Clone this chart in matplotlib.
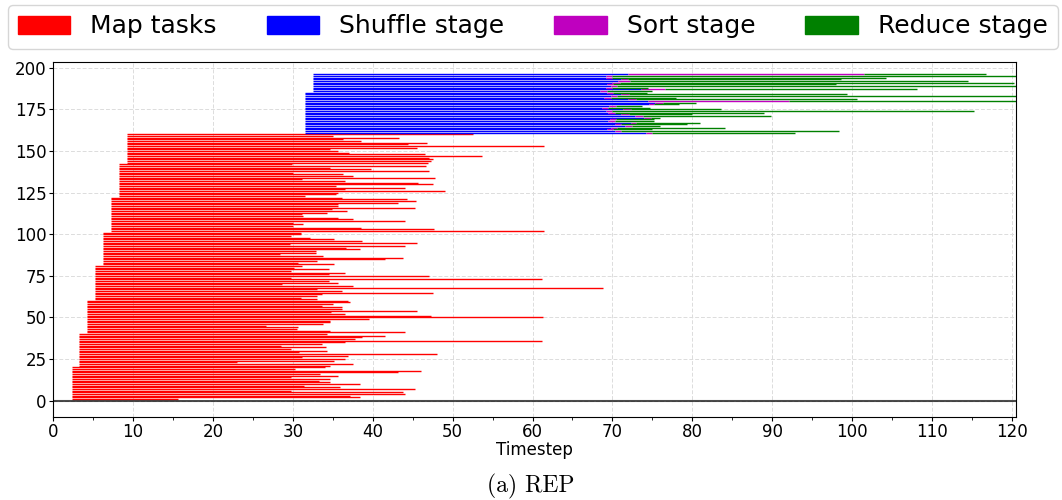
import numpy as np
import matplotlib
matplotlib.use("Agg")
import matplotlib.pyplot as plt
from matplotlib.patches import Patch
from matplotlib.ticker import MultipleLocator

# map tasks start in waves (start time, number of tasks in the wave)
map_wave_start = [2.4, 3.3, 4.2, 5.3, 6.3, 7.3, 8.3, 9.3]
map_wave_size = [20, 20, 20, 21, 20, 21, 20, 18]

# end time of each map task, bottom (task 1) to top (task 160)
map_end = [
    15.7, 38.4, 37.2, 44.0, 43.8, 29.8, 45.3, 35.9, 31.4, 38.4,
    34.6, 33.3, 34.7, 29.8, 35.7, 33.4, 43.2, 46.0, 30.3, 34.0,
    34.6, 37.5, 23.0, 35.2, 36.6, 31.1, 36.9, 48.1, 30.8, 34.3,
    29.8, 34.1, 28.5, 33.6, 36.6, 61.2, 37.8, 38.7, 41.6, 34.3,
    44.0, 34.7, 30.5, 30.6, 26.6, 33.8, 34.6, 34.7, 39.6, 61.3,
    47.3, 36.5, 34.8, 45.5, 36.1, 36.1, 33.6, 35.0, 37.2, 36.9,
    33.0, 31.0, 33.0, 33.7, 47.5, 36.2, 33.0, 68.8, 37.5, 28.7,
    35.7, 34.5, 61.2, 29.8, 47.0, 34.5, 36.6, 29.8, 34.5, 30.2,
    31.1, 35.2, 30.7, 33.0, 41.6, 43.8, 33.8, 28.4, 32.9, 32.9,
    38.4, 36.7, 44.1, 29.6, 45.5, 38.7, 35.1, 32.1, 29.8, 31.0,
    31.0, 61.5, 47.7, 38.6, 30.0, 31.3, 30.0, 44.1, 37.6, 35.7,
    31.3, 31.2, 34.3, 36.8, 34.9, 45.3, 35.7, 35.7, 43.2, 45.4,
    44.3, 36.1, 31.5, 35.4, 35.7, 49.1, 36.5, 44.1, 35.4, 47.5,
    45.7, 36.5, 31.2, 47.8, 37.5, 36.3, 30.0, 47.0, 39.8, 34.6,
    46.7, 29.9, 46.9, 47.3, 47.5, 47.1, 53.7, 46.6, 37.1, 35.7,
    34.6, 45.6, 61.4, 44.4, 46.8, 38.6, 36.3, 43.3, 35.0, 52.5,
]

# reduce tasks: shuffle starts in two waves
shuffle_wave_start = [31.5, 32.5]
shuffle_wave_size = [25, 11]

# per reduce task, bottom to top: end of shuffle, end of sort, end of reduce
shuffle_end = [
    74.2, 70.3, 69.3, 69.8, 71.6, 70.3, 72.3, 69.5, 69.7, 74.0,
    72.8, 71.1, 69.5, 69.2, 71.3, 68.7, 69.6, 74.6, 75.3, 74.5,
    72.0, 69.0, 69.8, 71.1, 69.3, 68.5, 73.6, 69.2, 69.8, 69.3,
    70.0, 70.7, 71.1, 69.2, 69.2, 71.9,
]
sort_end = [
    75.0, 71.1, 70.1, 70.6, 72.5, 71.1, 73.0, 70.3, 70.5, 74.8,
    73.8, 72.1, 70.3, 70.0, 72.3, 69.5, 70.4, 75.2, 76.3, 92.1,
    72.9, 69.8, 70.6, 72.1, 70.1, 69.3, 76.6, 70.0, 70.6, 70.1,
    71.0, 72.2, 72.0, 70.0, 70.0, 101.5,
]
reduce_end = [
    92.9, 98.3, 74.9, 84.1, 75.9, 79.3, 81.0, 75.2, 75.2, 76.0,
    89.8, 80.0, 89.0, 115.3, 83.6, 74.7, 73.7, 78.3, 80.4, 121.0,
    100.6, 77.9, 121.0, 99.3, 74.3, 74.9, 108.1, 74.5, 121.0, 98.0,
    120.3, 114.5, 98.6, 104.2, 121.0, 116.8,
]

map_start = np.repeat(map_wave_start, map_wave_size)
map_y = np.arange(1, len(map_end) + 1)
shuffle_start = np.repeat(shuffle_wave_start, shuffle_wave_size)
red_y = np.arange(len(map_end) + 1, len(map_end) + 1 + len(reduce_end))

fig = plt.figure(figsize=(10.62, 5.0), dpi=100)
ax = fig.add_axes([0.0499, 0.166, 0.9068, 0.71])

lw = 1.0
ax.hlines(map_y, map_start, map_end, colors="r", lw=lw)
ax.hlines(red_y, shuffle_start, shuffle_end, colors="b", lw=lw)
ax.hlines(red_y, shuffle_end, sort_end, colors="m", lw=lw)
ax.hlines(red_y, sort_end, reduce_end, colors="g", lw=lw)
ax.axhline(0, color="k", lw=1.5, alpha=0.7)

ax.set_xlim(0, 120.5)
ax.set_ylim(-9.8, 203.5)
ax.xaxis.set_major_locator(MultipleLocator(10))
ax.xaxis.set_minor_locator(MultipleLocator(5))
ax.yaxis.set_major_locator(MultipleLocator(25))
ax.tick_params(labelsize=12, length=3, pad=1.5)
ax.tick_params(which="minor", length=2)
ax.grid(True, which="major", color="#dcdcdc", linestyle=(0, (4, 2)), lw=0.7)
ax.set_axisbelow(True)
ax.set_xlabel("Timestep", fontsize=12, labelpad=0)

handles = [
    Patch(color="r", label="Map tasks"),
    Patch(color="b", label="Shuffle stage"),
    Patch(color="m", label="Sort stage"),
    Patch(color="g", label="Reduce stage"),
]
fig.legend(handles=handles, loc="center", ncol=4, mode="expand",
           bbox_to_anchor=(0.0075, 0.904, 0.9885, 0.086), fontsize=18,
           handlelength=2.1, borderaxespad=0)

fig.text(0.5, 0.027, "(a) REP", ha="center", va="center",
         family="cmr10", fontsize=17)

fig.savefig("out.png", dpi=100)
